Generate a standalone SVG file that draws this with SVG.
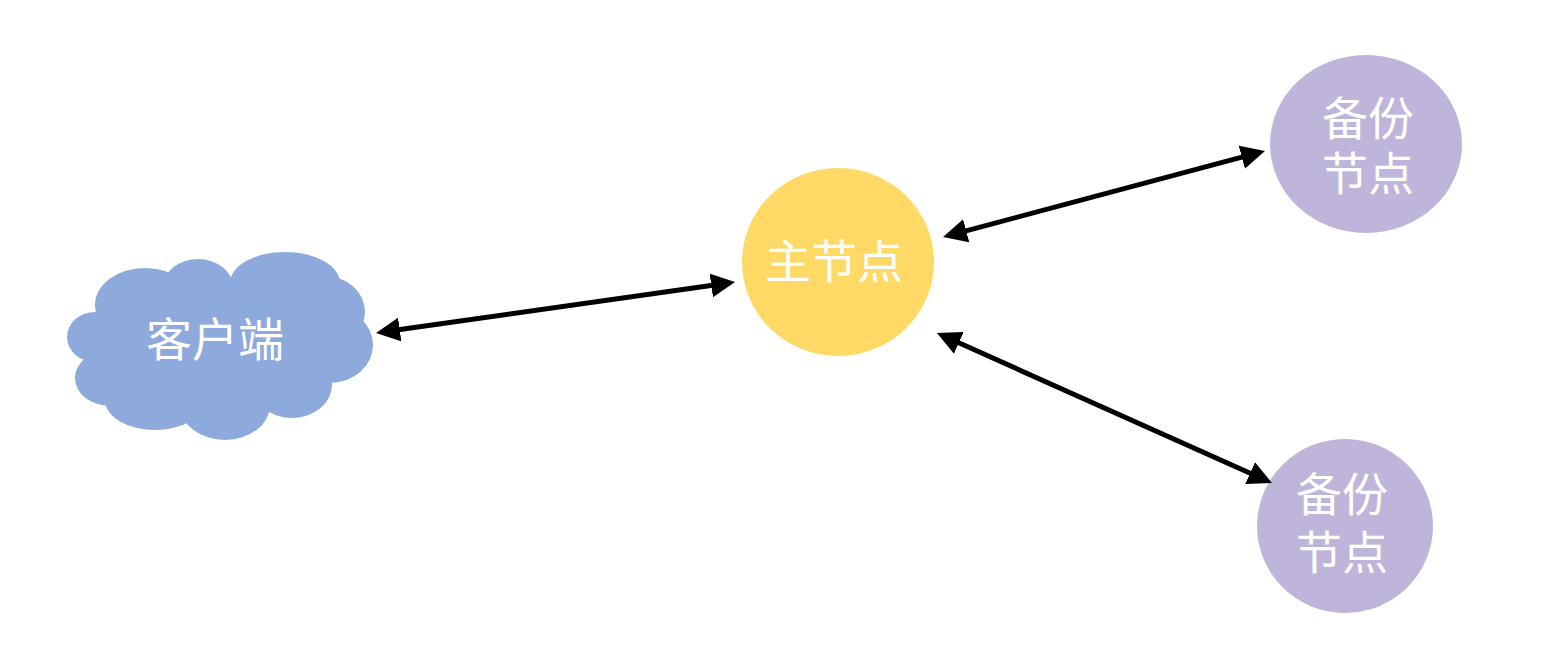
<svg xmlns="http://www.w3.org/2000/svg" width="1554" height="656" viewBox="0 0 1554 656">
<style>
.lbl{font-family:"Liberation Sans","Noto Sans CJK SC",sans-serif;font-size:46px;font-weight:400;fill:#ffffff;text-anchor:middle;dominant-baseline:central}
.conn{stroke:#000;stroke-width:5;fill:none;marker-start:url(#ah);marker-end:url(#ah)}
.cloud{fill:#8EAADC}
</style>
<defs>
<marker id="ah" markerUnits="userSpaceOnUse" markerWidth="24" markerHeight="24" refX="5" refY="12" orient="auto-start-reverse" viewBox="0 0 24 24">
<path d="M0,0 L24,12 L0,24 z" fill="#000"/>
</marker>
</defs>
<rect width="1554" height="656" fill="#ffffff"/>
<g id="client">
<g class="cloud">
<ellipse cx="220" cy="345" rx="125" ry="65"/>
<ellipse cx="145" cy="305" rx="50" ry="37"/>
<ellipse cx="198" cy="287" rx="35" ry="28"/>
<ellipse cx="285" cy="283" rx="55" ry="31"/>
<ellipse cx="325" cy="312" rx="40" ry="36"/>
<ellipse cx="330" cy="345" rx="43" ry="38"/>
<ellipse cx="292" cy="385" rx="40" ry="33"/>
<ellipse cx="225" cy="405" rx="45" ry="35"/>
<ellipse cx="155" cy="400" rx="50" ry="30"/>
<ellipse cx="110" cy="378" rx="35" ry="28"/>
<ellipse cx="95" cy="337" rx="28" ry="25"/>
</g>
<text class="lbl" x="215" y="340">客户端</text>
</g>
<g id="master">
<ellipse cx="838" cy="262" rx="96" ry="94" fill="#FFD966"/>
<text class="lbl" x="834" y="262">主节点</text>
</g>
<g id="backup1">
<ellipse cx="1366" cy="144" rx="96" ry="89" fill="#BFB4D9"/>
<text class="lbl" x="1368" y="119">备份<tspan x="1368" dy="55">节点</tspan></text>
</g>
<g id="backup2">
<ellipse cx="1345" cy="526" rx="88" ry="87" fill="#BFB4D9"/>
<text class="lbl" x="1342" y="495">备份<tspan x="1342" dy="58">节点</tspan></text>
</g>
<g id="connectors">
<line class="conn" x1="394.8" y1="330.3" x2="716.2" y2="284.7"/>
<line class="conn" x1="961.4" y1="232.1" x2="1246.6" y2="155.9"/>
<line class="conn" x1="954.3" y1="340.8" x2="1254.7" y2="475.2"/>
</g>
</svg>
